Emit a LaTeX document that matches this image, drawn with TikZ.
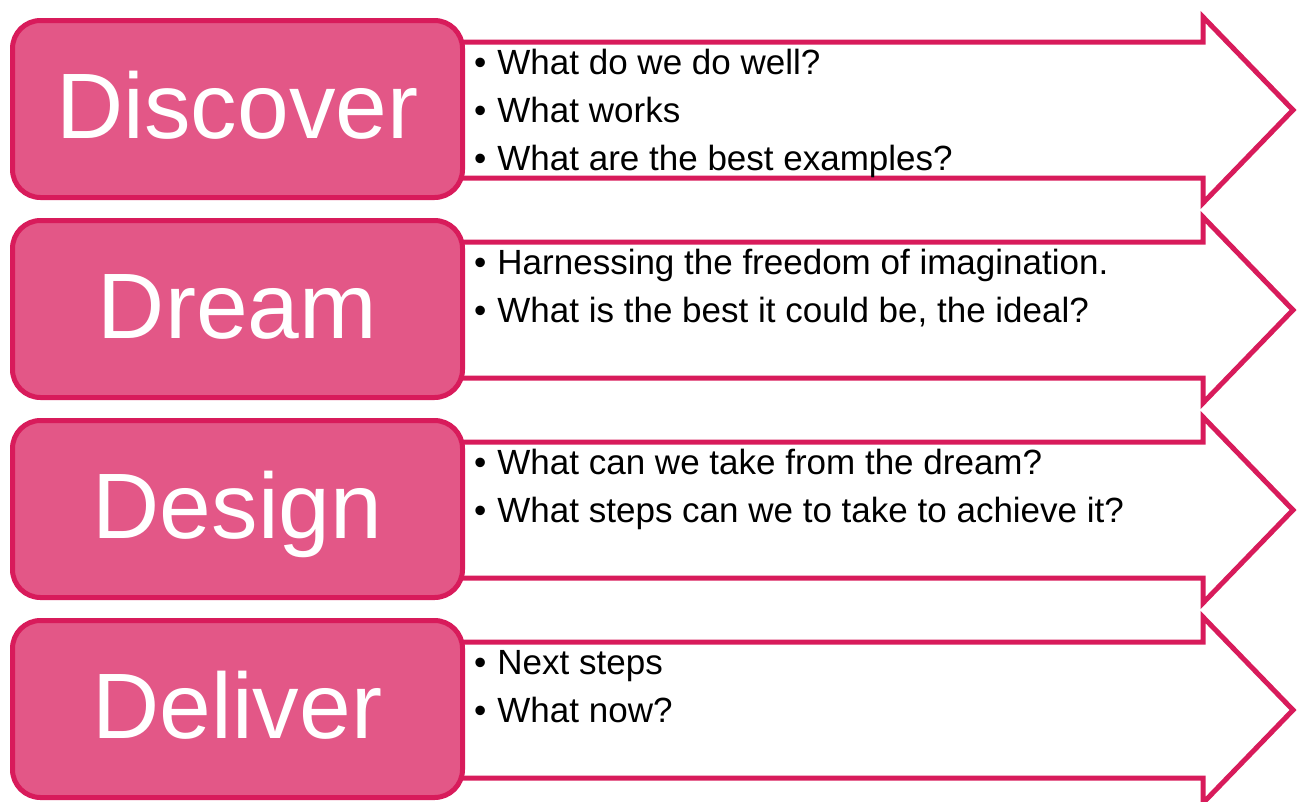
\documentclass[tikz,border=0pt]{standalone}
\usepackage{fontspec}
\setmainfont{Liberation Sans}
\usetikzlibrary{positioning}
\definecolor{rosefill}{HTML}{E35787}
\definecolor{roseline}{HTML}{D81B5B}
\newcommand{\qitem}[1]{\textbullet\hspace{11pt}#1}
\tikzset{
  phase/.style={draw=roseline, line width=5pt, fill=rosefill, rounded corners=28pt,
    minimum width=450pt, minimum height=177pt, inner sep=0pt, text=white,
    font=\fontsize{93}{93}\selectfont, text height=66pt, text depth=8pt},
  shaft/.style={draw=roseline, line width=5pt, fill=white, line join=miter},
  item/.style={anchor=base west, inner sep=0pt, font=\fontsize{35}{35}\selectfont}
}

\begin{document}
\begin{tikzpicture}[x=1pt, y=-1pt]
\useasboundingbox (0,0) rectangle (1298,801);
\clip (0,0) rectangle (1298,801);
% block arrows behind the boxes
\foreach \t in {18,218,418,618}
  \draw[shaft] (440,\t+24) -- (1203,\t+24) -- (1203,\t-1) -- (1293,\t+92)
    -- (1203,\t+185) -- (1203,\t+160) -- (440,\t+160) -- cycle;
% the four phases
\node [phase] (disc) at (237.5,109) {Discover};
\node [phase] (drea) at (237.5,309) {Dream};
\node [phase] (desi) at (237.5,509) {Design};
\node [phase] (deli) at (237.5,709) {Deliver};
% questions for each phase
\node [item] (disc1) at (474,74) {\qitem{What do we do well?}};
\node [item] (disc2) at (474,122) {\qitem{What works}};
\node [item] (disc3) at (474,170) {\qitem{What are the best examples?}};
\node [item] (drea1) at (474,274) {\qitem{Harnessing the freedom of imagination.}};
\node [item] (drea2) at (474,322) {\qitem{What is the best it could be, the ideal?}};
\node [item] (desi1) at (474,474) {\qitem{What can we take from the dream?}};
\node [item] (desi2) at (474,522) {\qitem{What steps can we to take to achieve it?}};
\node [item] (deli1) at (474,674) {\qitem{Next steps}};
\node [item] (deli2) at (474,722) {\qitem{What now?}};
\end{tikzpicture}
\end{document}
